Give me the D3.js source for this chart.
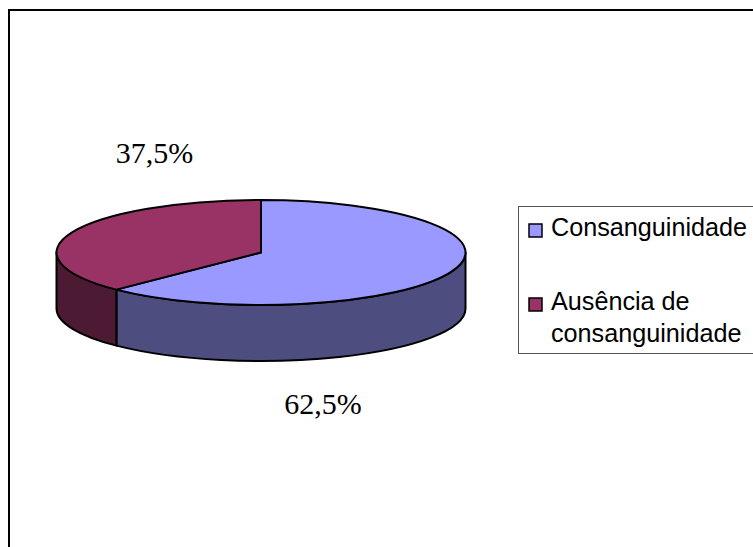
<!DOCTYPE html>
<html>
<head>
<meta charset="utf-8">
<script src="https://cdn.jsdelivr.net/npm/d3@7"></script>
<style>
  html, body { margin: 0; padding: 0; background: #fff; overflow: hidden; }
  svg { display: block; }
  .value-label { font-family: "Liberation Serif", serif; font-size: 30px; text-anchor: middle; fill: #000; }
  .legend-label { font-family: "Liberation Sans", sans-serif; font-size: 25.2px; fill: #000; }
</style>
</head>
<body>
<div id="chart"></div>
<script>
// Chart data
var categories = ["Consanguinidade", "Ausência de consanguinidade"];
var legendLines = [["Consanguinidade"], ["Ausência de", "consanguinidade"]];
var values = [62.5, 37.5];
var topColors = ["#9999ff", "#993366"];
var sideColors = ["#4d4d80", "#4d1a33"];

// Set SVG dimensions
var svgWidth = 753;
var svgHeight = 547;

// Set pie geometry (flattened ellipse with a side wall)
var cx = 261;
var cy = 252.5;
var rx = 204.5;
var ry = 52.5;
var depth = 56;

var svg = d3.select("#chart")
    .append("svg")
    .attr("width", svgWidth)
    .attr("height", svgHeight);

// Outer frame runs off the right and bottom of the page
svg.append("rect")
    .attr("x", 9)
    .attr("y", 10)
    .attr("width", 900)
    .attr("height", 700)
    .attr("fill", "#fff")
    .attr("stroke", "#000")
    .attr("stroke-width", 2);

// Angles are clockwise from 12 o'clock
var slices = d3.pie().sort(null)(values);

function px(a) { return cx + rx * Math.sin(a); }
function py(a) { return cy - ry * Math.cos(a); }

function topPath(d) {
    var large = d.endAngle - d.startAngle > Math.PI ? 1 : 0;
    return `M${cx},${cy} L${px(d.startAngle)},${py(d.startAngle)} ` +
        `A${rx},${ry} 0 ${large} 1 ${px(d.endAngle)},${py(d.endAngle)} Z`;
}

// Only the part of a slice facing the viewer (right side round to left side) has a wall
function wallPath(d) {
    var a0 = Math.max(d.startAngle, Math.PI / 2);
    var a1 = Math.min(d.endAngle, Math.PI * 3 / 2);
    return `M${px(a0)},${py(a0)} A${rx},${ry} 0 0 1 ${px(a1)},${py(a1)} ` +
        `L${px(a1)},${py(a1) + depth} A${rx},${ry} 0 0 0 ${px(a0)},${py(a0) + depth} Z`;
}

var pieGroup = svg.append("g")
    .attr("stroke", "#000")
    .attr("stroke-width", 2)
    .attr("stroke-linejoin", "round");

pieGroup.selectAll(".wall")
    .data(slices)
    .enter()
    .append("path")
    .attr("class", "wall")
    .attr("d", wallPath)
    .attr("fill", (d, i) => sideColors[i]);

pieGroup.selectAll(".top")
    .data(slices)
    .enter()
    .append("path")
    .attr("class", "top")
    .attr("d", topPath)
    .attr("fill", (d, i) => topColors[i]);

// Value labels
var labelPos = [[323, 414], [154.5, 163]];
svg.selectAll(".value-label")
    .data(values)
    .enter()
    .append("text")
    .attr("class", "value-label")
    .attr("x", (d, i) => labelPos[i][0])
    .attr("y", (d, i) => labelPos[i][1])
    .text(d => String(d).replace(".", ",") + "%");

// Legend box also runs to the page edge
svg.append("rect")
    .attr("x", 518.5)
    .attr("y", 206.5)
    .attr("width", 300)
    .attr("height", 147)
    .attr("fill", "#fff")
    .attr("stroke", "#555")
    .attr("stroke-width", 1);

var legendY = d3.scalePoint().domain(categories).range([230, 304]);

var legend = svg.selectAll(".legend-item")
    .data(categories)
    .enter()
    .append("g")
    .attr("class", "legend-item")
    .attr("transform", d => `translate(0,${legendY(d)})`);

legend.append("rect")
    .attr("x", 529)
    .attr("y", -6)
    .attr("width", 13)
    .attr("height", 13)
    .attr("fill", (d, i) => topColors[i])
    .attr("stroke", "#000")
    .attr("stroke-width", 1.5);

legend.each(function(d, i) {
    d3.select(this).selectAll("text")
        .data(legendLines[i])
        .enter()
        .append("text")
        .attr("class", "legend-label")
        .attr("x", 551)
        .attr("y", (line, j) => 5.5 + j * 32)
        .text(line => line);
});
</script>
</body>
</html>
